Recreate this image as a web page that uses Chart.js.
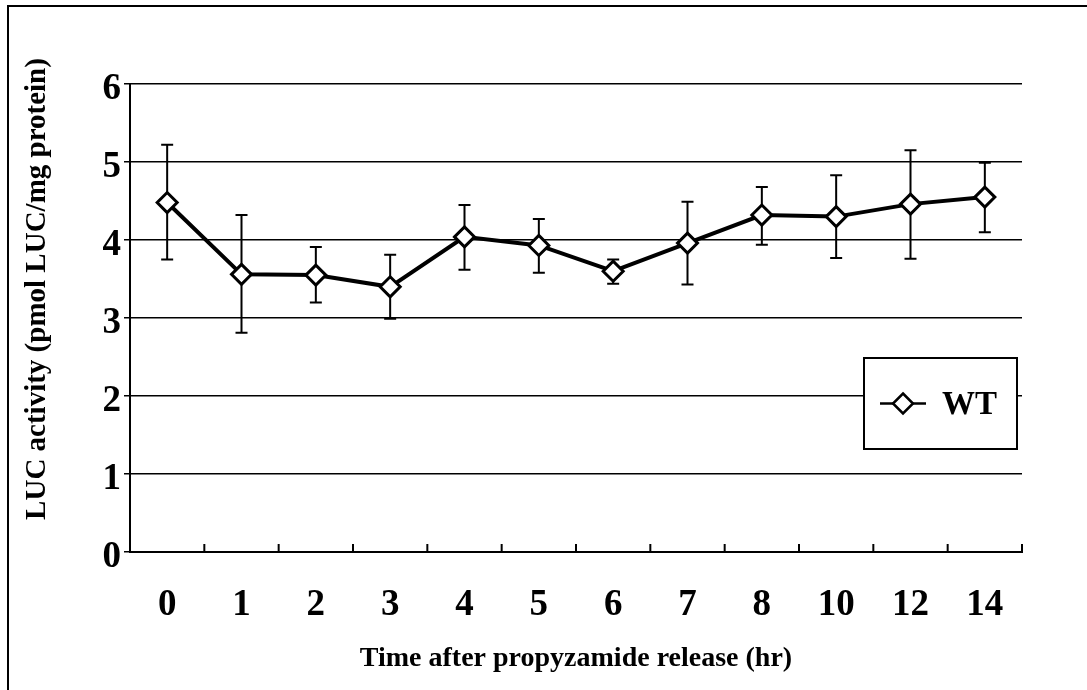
<!DOCTYPE html>
<html>
<head>
<meta charset="utf-8">
<script src="https://cdn.jsdelivr.net/npm/chart.js@4.4.0/dist/chart.umd.min.js"></script>
<style>
    body { margin: 0; background: #fff; }
    #frame { position: absolute; left: 7px; top: 5px; width: 1200px; height: 800px; border: 2px solid #000; }
    canvas { position: absolute; left: 0; top: 0; }
</style>
</head>
<body>
<div id="frame"></div>
<canvas id="myChart" width="1087" height="690"></canvas>
<script>
const times = ['0', '1', '2', '3', '4', '5', '6', '7', '8', '10', '12', '14'];
const wtMean = [4.48, 3.56, 3.55, 3.40, 4.04, 3.93, 3.60, 3.96, 4.32, 4.30, 4.46, 4.55];
const wtHigh = [5.22, 4.32, 3.91, 3.81, 4.45, 4.27, 3.75, 4.49, 4.68, 4.83, 5.15, 4.99];
const wtLow = [3.75, 2.81, 3.20, 2.99, 3.62, 3.58, 3.44, 3.43, 3.94, 3.77, 3.76, 4.10];
const yTicks = [0, 1, 2, 3, 4, 5, 6];

const serif = "'Liberation Serif', 'Times New Roman', serif";

// error bars, drawn under the line and diamonds
const errorBars = {
    id: 'errorBars',
    beforeDatasetsDraw(chart) {
        const ctx = chart.ctx;
        const yScale = chart.scales.y;
        const meta = chart.getDatasetMeta(0);
        ctx.save();
        ctx.strokeStyle = '#000';
        ctx.lineWidth = 2;
        meta.data.forEach((pt, i) => {
            const top = yScale.getPixelForValue(wtHigh[i]);
            const bot = yScale.getPixelForValue(wtLow[i]);
            ctx.beginPath();
            ctx.moveTo(pt.x, top);
            ctx.lineTo(pt.x, bot);
            ctx.moveTo(pt.x - 6, top);
            ctx.lineTo(pt.x + 6, top);
            ctx.moveTo(pt.x - 6, bot);
            ctx.lineTo(pt.x + 6, bot);
            ctx.stroke();
        });
        ctx.restore();
    }
};

// short tick marks pointing up from the x axis, at category edges
const innerTicks = {
    id: 'innerTicks',
    afterDraw(chart) {
        const ctx = chart.ctx;
        const xScale = chart.scales.x;
        const area = chart.chartArea;
        ctx.save();
        ctx.strokeStyle = '#000';
        ctx.lineWidth = 2;
        for (let i = 0; i <= times.length; i++) {
            let x;
            if (i == 0) x = area.left;
            else if (i == times.length) x = area.right;
            else x = (xScale.getPixelForValue(i - 1) + xScale.getPixelForValue(i)) / 2;
            ctx.beginPath();
            ctx.moveTo(x, area.bottom);
            ctx.lineTo(x, area.bottom - 8);
            ctx.stroke();
        }
        ctx.restore();
    }
};

const legendBox = {
    id: 'legendBox',
    afterDraw(chart) {
        const ctx = chart.ctx;
        const area = chart.chartArea;
        const ds = chart.data.datasets[0];
        const w = 153, h = 91;
        const x = area.right - 5 - w, y = area.top + 274;
        ctx.save();
        ctx.fillStyle = '#fff';
        ctx.fillRect(x, y, w, h);
        ctx.strokeStyle = '#000';
        ctx.lineWidth = 2;
        ctx.strokeRect(x, y, w, h);
        const cy = y + h / 2;
        ctx.beginPath();
        ctx.moveTo(x + 16, cy);
        ctx.lineTo(x + 62, cy);
        ctx.lineWidth = 2.5;
        ctx.stroke();
        const cx = x + 39;
        ctx.beginPath();
        ctx.moveTo(cx, cy - 10);
        ctx.lineTo(cx + 10, cy);
        ctx.lineTo(cx, cy + 10);
        ctx.lineTo(cx - 10, cy);
        ctx.closePath();
        ctx.fill();
        ctx.stroke();
        ctx.fillStyle = '#000';
        ctx.font = 'bold 33px ' + serif;
        ctx.textBaseline = 'middle';
        ctx.textAlign = 'left';
        ctx.fillText(ds.label, x + 78, cy + 2);
        ctx.restore();
    }
};

new Chart(document.getElementById('myChart'), {
    type: 'line',
    data: {
        labels: times,
        datasets: [{
            label: 'WT',
            data: wtMean,
            borderColor: '#000',
            borderWidth: 4,
            pointStyle: 'rectRot',
            pointRadius: 10,
            pointBackgroundColor: '#fff',
            pointBorderColor: '#000',
            pointBorderWidth: 3,
            tension: 0
        }]
    },
    options: {
        responsive: false,
        animation: false,
        devicePixelRatio: 1,
        layout: { padding: { left: 0, top: 84, right: 65, bottom: 0 } },
        plugins: {
            legend: { display: false },
            tooltip: { enabled: false }
        },
        scales: {
            x: {
                offset: true,
                grid: { display: false },
                border: { display: true, color: '#000', width: 2 },
                ticks: {
                    color: '#000',
                    padding: 23,
                    maxRotation: 0,
                    font: { family: serif, size: 37, weight: 'bold' }
                },
                title: {
                    display: true,
                    text: 'Time after propyzamide release (hr)',
                    color: '#000',
                    padding: { top: 0, bottom: 14 },
                    font: { family: serif, size: 28, weight: 'bold' }
                },
                afterFit(scale) { scale.height = 138; }
            },
            y: {
                min: 0,
                max: 6,
                afterBuildTicks(scale) { scale.ticks = yTicks.map(v => ({ value: v })); },
                grid: { color: '#000', lineWidth: 1.5, drawTicks: true, tickLength: 6 },
                border: { display: true, color: '#000', width: 2 },
                ticks: {
                    color: '#000',
                    padding: 3,
                    labelOffset: 5,
                    font: { family: serif, size: 37, weight: 'bold' }
                },
                title: {
                    display: true,
                    // leading spaces lift the text, the reference sits above the axis middle
                    text: '        LUC activity (pmol LUC/mg protein)',
                    color: '#000',
                    padding: { top: 20, bottom: 0 },
                    font: { family: serif, size: 29, weight: 'bold' }
                },
                afterFit(scale) { scale.width = 130; }
            }
        }
    },
    plugins: [errorBars, innerTicks, legendBox]
});
</script>
</body>
</html>
